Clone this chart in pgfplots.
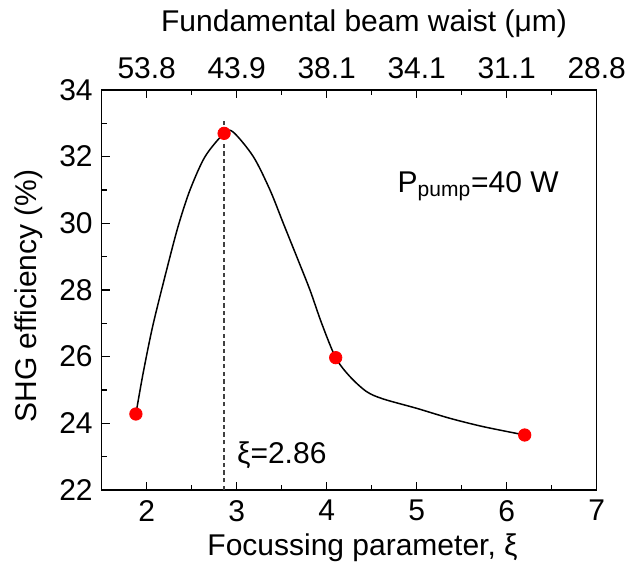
\documentclass[border=0pt]{standalone}
\usepackage{fontspec}
\setmainfont{Liberation Sans}
\usepackage{pgfplots}
\pgfplotsset{compat=1.18}
\begin{document}
\begin{tikzpicture}
\pgfplotsset{
  common/.style={
    scale only axis, width=247.5pt, height=200pt,
    xmin=1.5, xmax=7, ymin=22, ymax=34,
    tick align=inside,
    major tick length=4pt, minor tick length=2.5pt,
    tick style={black, line width=0.6pt},
    axis line style={line width=0.7pt},
    /pgf/number format/assume math mode=true,
    ticklabel style={font=\fontsize{15}{17}\selectfont},
    label style={font=\fontsize{15}{17}\selectfont},
  }
}
\begin{axis}[common,
  xtick={2,...,7}, ytick={22,24,...,34},
  minor x tick num=1, minor y tick num=1,
  xtick pos=bottom, ytick pos=left,
  xticklabel style={yshift=-1.5pt},
  yticklabel style={xshift=-1pt},
  xlabel={Focussing parameter, ξ},
  ylabel={SHG efficiency (\%)},
  xlabel style={at={(axis description cs:0.527,-0.1625)}, anchor=base},
  ylabel style={at={(axis description cs:-0.148,0.485)}, anchor=center},
]
\coordinate (bl) at (rel axis cs:0,0);
\coordinate (tr) at (rel axis cs:1,1);
\addplot[black!75, dash pattern=on 2.2pt off 1.6pt, line width=0.7pt] coordinates {(2.86,22) (2.86,33.15)};
\addplot[black, line width=0.75pt, smooth, tension=0.5] coordinates {
(1.88,24.28) (1.96,25.5) (2.074,27.0) (2.259,29.0) (2.359,30.0) (2.481,31.0)
(2.648,32.0) (2.86,32.7) (2.96,32.74) (3.185,32.0) (3.37,31.0) (3.518,30.0)
(3.667,29.0) (3.814,28.0) (3.944,27.0) (4.10,25.97) (4.259,25.4) (4.444,24.95)
(4.629,24.73) (5.0,24.45) (5.37,24.15) (5.74,23.9) (6.20,23.65)};
\addplot[only marks, mark=*, mark size=3.1pt, red, mark options={fill=red, draw=red}] coordinates {
(1.88,24.28) (2.86,32.7) (4.10,25.97) (6.20,23.65)};
\node[anchor=base west, inner sep=0pt, font=\fontsize{15}{17}\selectfont] at (axis cs:3.0,22.81) {ξ=2.86};
\node[anchor=base west, inner sep=0pt, font=\fontsize{15}{17}\selectfont] at (axis cs:4.784,30.92) {P\textsubscript{pump}=40 W};
\end{axis}
\begin{axis}[common,
  axis x line*=top, axis y line=none,
  xtick={2,...,7}, xticklabels={53.8,43.9,38.1,34.1,31.1,28.8},
  minor x tick num=1,
  xticklabel style={yshift=2pt},
  xlabel={Fundamental beam waist (μm)},
  xlabel style={at={(axis description cs:0.530,1.145)}, anchor=base},
]
\end{axis}
\pgfresetboundingbox
\path[use as bounding box] ([xshift=-50.85pt,yshift=-38.5pt]bl) rectangle ([xshift=14.15pt,yshift=45pt]tr);
\end{tikzpicture}
\end{document}
